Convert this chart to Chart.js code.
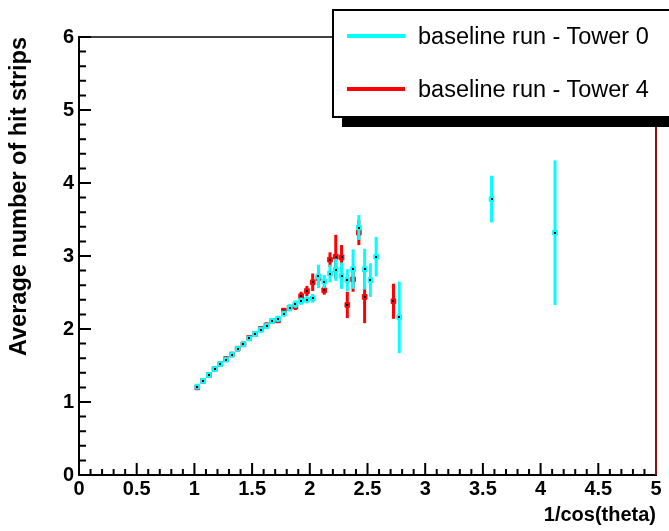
<!DOCTYPE html>
<html>
<head>
<meta charset="utf-8">
<script src="https://cdn.jsdelivr.net/npm/chart.js@4"></script>
<style>
  body { margin: 0; background: #fff; overflow: hidden; }
  #wrap { position: relative; width: 669px; height: 531px; }
  #legend {
    position: absolute; left: 332px; top: 9px; width: 360px; height: 105px;
    border: 2px solid #000; background: #fff; box-shadow: 10px 9px 0 #000;
    font-family: "Liberation Sans", Arial, sans-serif; font-size: 23.5px; color: #000;
  }
  .row { position: absolute; left: 13px; height: 26px; display: flex; align-items: center; white-space: nowrap; }
  .swatch { width: 58px; height: 4px; margin-right: 13px; }
</style>
</head>
<body>
<div id="wrap">
  <canvas id="chart" width="669" height="531"></canvas>
  <div id="legend">
    <div class="row" style="top:12px"><span class="swatch" style="background:#00ffff"></span>baseline run - Tower 0</div>
    <div class="row" style="top:65px"><span class="swatch" style="background:#ff0000"></span>baseline run - Tower 4</div>
  </div>
</div>
<script>
// 軸の目盛り
const xTicks = [0, 0.5, 1, 1.5, 2, 2.5, 3, 3.5, 4, 4.5, 5];
const yTicks = [0, 1, 2, 3, 4, 5, 6];

// Tower 0 (cyan)
const tower0X = [1.025, 1.075, 1.125, 1.175, 1.225, 1.275, 1.325, 1.375, 1.425, 1.475,
                 1.525, 1.575, 1.625, 1.675, 1.725, 1.775, 1.825, 1.875, 1.925, 1.975,
                 2.025, 2.075, 2.125, 2.175, 2.225, 2.275, 2.325, 2.375, 2.425, 2.475,
                 2.525, 2.575, 2.775, 3.575, 4.125];
const tower0Y = [1.21, 1.29, 1.37, 1.45, 1.52, 1.58, 1.65, 1.73, 1.79, 1.87,
                 1.93, 1.99, 2.04, 2.11, 2.14, 2.21, 2.29, 2.34, 2.38, 2.40,
                 2.42, 2.72, 2.65, 2.76, 2.81, 2.73, 2.67, 2.82, 3.39, 2.82,
                 2.67, 2.99, 2.16, 3.78, 3.32];
const tower0Err = [0.03, 0.03, 0.03, 0.03, 0.03, 0.03, 0.03, 0.03, 0.03, 0.03,
                   0.04, 0.04, 0.04, 0.04, 0.04, 0.04, 0.05, 0.05, 0.05, 0.05,
                   0.06, 0.16, 0.09, 0.12, 0.15, 0.18, 0.15, 0.27, 0.17, 0.28,
                   0.23, 0.27, 0.49, 0.32, 0.99];

// Tower 4 (red)
const tower4X = [1.025, 1.075, 1.125, 1.175, 1.225, 1.275, 1.325, 1.375, 1.425, 1.475,
                 1.525, 1.575, 1.625, 1.675, 1.725, 1.775, 1.825, 1.875, 1.925, 1.975,
                 2.025, 2.075, 2.125, 2.175, 2.225, 2.275, 2.325, 2.375, 2.425, 2.475,
                 2.725];
const tower4Y = [1.20, 1.29, 1.37, 1.45, 1.52, 1.59, 1.65, 1.73, 1.79, 1.88,
                 1.93, 2.00, 2.05, 2.11, 2.12, 2.25, 2.29, 2.31, 2.45, 2.52,
                 2.64, 2.70, 2.53, 2.95, 2.99, 2.98, 2.33, 2.68, 3.32, 2.44,
                 2.38];
const tower4Err = [0.03, 0.03, 0.03, 0.03, 0.03, 0.03, 0.03, 0.03, 0.03, 0.03,
                   0.04, 0.04, 0.04, 0.04, 0.04, 0.04, 0.04, 0.05, 0.06, 0.07,
                   0.12, 0.10, 0.06, 0.10, 0.30, 0.17, 0.18, 0.17, 0.17, 0.36,
                   0.24];

const CYAN = '#00ffff';
const RED = '#ff0000';

function toPoints(xs, ys) {
    return xs.map((x, i) => ({ x: x, y: ys[i] }));
}

// エラーバー（スケール経由で描画）
const errorBars = {
    id: 'errorBars',
    beforeDatasetDraw(chart, args) {
        const ds = chart.data.datasets[args.index];
        if (!ds.errors) return;
        const { ctx } = chart;
        const ys = chart.scales.y;
        ctx.save();
        ctx.strokeStyle = ds.borderColor;
        ctx.lineWidth = 3;
        ds.data.forEach((p, i) => {
            const px = chart.scales.x.getPixelForValue(p.x);
            ctx.beginPath();
            ctx.moveTo(px, ys.getPixelForValue(p.y - ds.errors[i]));
            ctx.lineTo(px, ys.getPixelForValue(p.y + ds.errors[i]));
            ctx.stroke();
        });
        ctx.restore();
    },
    afterDatasetDraw(chart, args) {
        const { ctx } = chart;
        ctx.save();
        ctx.fillStyle = '#000';
        args.meta.data.forEach(el => {
            ctx.fillRect(Math.round(el.x) - 1, Math.round(el.y) - 1, 2, 2);
        });
        ctx.restore();
    }
};

// ROOT風の内向き目盛りと枠
const frame = {
    id: 'frame',
    afterDraw(chart) {
        const { ctx, chartArea: a } = chart;
        const sx = chart.scales.x, sy = chart.scales.y;
        ctx.save();
        ctx.strokeStyle = '#000';
        ctx.lineWidth = 2;
        ctx.beginPath();
        for (let i = 0; i <= 50; i++) {
            const px = sx.getPixelForValue(i * 0.1);
            const len = i % 5 === 0 ? 12 : 6;
            ctx.moveTo(px, a.bottom);
            ctx.lineTo(px, a.bottom - len);
        }
        for (let i = 0; i <= 30; i++) {
            const py = sy.getPixelForValue(i * 0.2);
            const len = i % 5 === 0 ? 12 : 7;
            ctx.moveTo(a.left, py);
            ctx.lineTo(a.left + len, py);
        }
        ctx.stroke();
        ctx.lineWidth = 1.5;
        ctx.beginPath();
        ctx.moveTo(a.left, a.top);
        ctx.lineTo(a.right, a.top);
        ctx.stroke();
        ctx.strokeStyle = '#8b1010';
        ctx.lineWidth = 2;
        ctx.beginPath();
        ctx.moveTo(a.right, a.top);
        ctx.lineTo(a.right, a.bottom);
        ctx.stroke();
        ctx.restore();
    }
};

const tickFont = { family: '"Liberation Sans Narrow", "Liberation Sans", Arial', weight: 'bold', size: 20 };

new Chart(document.getElementById('chart'), {
    type: 'scatter',
    data: {
        datasets: [{
            label: 'baseline run - Tower 0',
            data: toPoints(tower0X, tower0Y),
            errors: tower0Err,
            borderColor: CYAN,
            backgroundColor: CYAN,
            pointStyle: 'rect',
            pointRadius: 3.3,
            borderWidth: 1
        }, {
            label: 'baseline run - Tower 4',
            data: toPoints(tower4X, tower4Y),
            errors: tower4Err,
            borderColor: RED,
            backgroundColor: RED,
            pointStyle: 'rect',
            pointRadius: 3.3,
            borderWidth: 1
        }]
    },
    options: {
        responsive: false,
        animation: false,
        layout: { padding: { left: 0, right: 13, top: 37, bottom: 0 } },
        plugins: {
            legend: { display: false },
            tooltip: { enabled: false }
        },
        scales: {
            x: {
                type: 'linear',
                min: 0,
                max: 5,
                afterBuildTicks: s => { s.ticks = xTicks.map(v => ({ value: v })); },
                afterFit: s => { s.height = 56; },
                grid: { display: false, drawTicks: false },
                border: { display: true, color: '#000', width: 2 },
                ticks: {
                    color: '#000',
                    font: tickFont,
                    padding: 2,
                    maxRotation: 0,
                    callback: v => String(v)
                },
                title: {
                    display: true,
                    text: '1/cos(theta)',
                    align: 'end',
                    color: '#000',
                    font: { family: '"Liberation Sans", Arial', weight: 'bold', size: 20 },
                    padding: { top: 0, bottom: 4 }
                }
            },
            y: {
                type: 'linear',
                min: 0,
                max: 6,
                afterBuildTicks: s => { s.ticks = yTicks.map(v => ({ value: v })); },
                afterFit: s => { s.width = 79; },
                grid: { display: false, drawTicks: false },
                border: { display: true, color: '#000', width: 2 },
                ticks: {
                    color: '#000',
                    font: tickFont,
                    padding: 5
                },
                title: {
                    display: true,
                    text: 'Average number of hit strips',
                    align: 'end',
                    color: '#000',
                    font: { family: '"Liberation Sans", Arial', weight: 'bold', size: 23.5 },
                    padding: { top: 5, bottom: 0 }
                }
            }
        }
    },
    plugins: [errorBars, frame]
});
</script>
</body>
</html>
